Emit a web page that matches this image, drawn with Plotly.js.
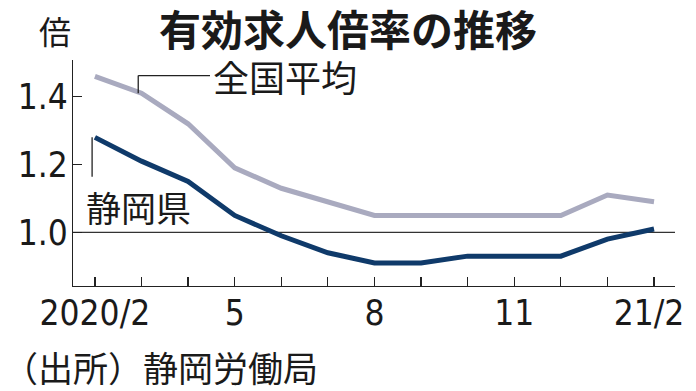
<!DOCTYPE html>
<html>
<head>
<meta charset="utf-8">
<script src="https://cdn.plot.ly/plotly-3.0.1.min.js"></script>
<style>
html,body{margin:0;padding:0;background:#fff;}
#chart{width:696px;height:391px;}
</style>
</head>
<body>
<div id="chart"></div>
<script>
// Months 2020/2 .. 2021/2
const months = ["2020/2","2020/3","2020/4","2020/5","2020/6","2020/7","2020/8","2020/9","2020/10","2020/11","2020/12","2021/1","2021/2"];
const tickLabels = ["2020/2","","","5","","","8","","","11","","","21/2\u00a0"];
const national = [1.46, 1.41, 1.32, 1.19, 1.13, 1.09, 1.05, 1.05, 1.05, 1.05, 1.05, 1.11, 1.09];
const shizuoka = [1.28, 1.21, 1.15, 1.05, 0.99, 0.94, 0.91, 0.91, 0.93, 0.93, 0.93, 0.98, 1.01];
const yTicks = [1.0, 1.2, 1.4];
const yTickText = ["1.0", "1.2", "1.4"];

const idx = months.map((m, i) => i);
const numFont = "'Liberation Sans Narrow','DejaVu Sans Condensed','Liberation Sans',sans-serif";
const cjkFont = "'Noto Sans CJK JP','Noto Sans CJK SC',sans-serif";

const traces = [
  {x: idx, y: national, type: 'scatter', mode: 'lines', name: '全国平均',
   line: {color: '#a9aabf', width: 5, shape: 'linear'}, hoverinfo: 'skip'},
  {x: idx, y: shizuoka, type: 'scatter', mode: 'lines', name: '静岡県',
   line: {color: '#0f3a6a', width: 5, shape: 'linear'}, hoverinfo: 'skip'}
];

const layout = {
  width: 696, height: 391,
  paper_bgcolor: '#fff', plot_bgcolor: '#fff',
  margin: {l: 73, r: 21, t: 60, b: 105, pad: 0},
  showlegend: false,
  title: {text: '<b>有効求人倍率の推移</b>', font: {family: cjkFont, size: 42, color: '#1a1a1a'},
          xref: 'container', x: 0.5, xanchor: 'center', yref: 'container', y: 1 - 31/391, yanchor: 'middle'},
  xaxis: {
    range: [-0.47, 12.45], tickmode: 'array', tickvals: idx, ticktext: tickLabels,
    ticks: 'inside', ticklen: 9, tickwidth: 1.2, tickcolor: '#222',
    showline: true, linecolor: '#222', linewidth: 1.3, showgrid: false, zeroline: false,
    tickfont: {family: numFont, size: 35, color: '#1a1a1a'}, ticklabelstandoff: -4,
    ticklabeloverflow: 'allow', fixedrange: true
  },
  yaxis: {
    range: [0.842, 1.508], tickmode: 'array', tickvals: yTicks, ticktext: yTickText,
    ticks: 'inside', ticklen: 9, tickwidth: 1.2, tickcolor: '#222',
    showline: true, linecolor: '#222', linewidth: 1.3, showgrid: false, zeroline: false,
    tickfont: {family: numFont, size: 35, color: '#1a1a1a'}, ticklabelstandoff: -3,
    ticklabeloverflow: 'allow', fixedrange: true
  },
  shapes: [
    {type: 'line', xref: 'paper', yref: 'y', x0: 0, x1: 1, y0: 1.0, y1: 1.0,
     line: {color: '#333', width: 1.2}, layer: 'below'},
    // leader for national
    {type: 'line', xref: 'x', yref: 'y', x0: 0.93, x1: 0.93, y0: national[1], y1: 1.462, line: {color: '#222', width: 1.3}},
    {type: 'line', xref: 'x', yref: 'y', x0: 0.93, x1: 2.47, y0: 1.462, y1: 1.462, line: {color: '#222', width: 1.3}},
    // leader for Shizuoka
    {type: 'line', xref: 'x', yref: 'y', x0: -0.06, x1: -0.06, y0: shizuoka[0], y1: 1.164, line: {color: '#222', width: 1.3}}
  ],
  annotations: [
    {text: '全国平均', xref: 'x', yref: 'y', x: 2.5, y: 1.462, xanchor: 'left', yanchor: 'middle', showarrow: false,
     font: {family: cjkFont, size: 36, color: '#1a1a1a'}},
    {text: '静岡県', xref: 'x', yref: 'y', x: -0.24, y: 1.076, xanchor: 'left', yanchor: 'middle', showarrow: false,
     font: {family: cjkFont, size: 35, color: '#1a1a1a'}},
    {text: '倍', xref: 'paper', yref: 'paper', x: -0.03, y: (286-30)/226, xanchor: 'center', yanchor: 'middle', showarrow: false,
     font: {family: cjkFont, size: 32, color: '#1a1a1a'}},
    {text: '（出所）静岡労働局', xref: 'paper', yref: 'paper', x: -72/602, y: (286-366)/226, xanchor: 'left', yanchor: 'middle', showarrow: false,
     font: {family: cjkFont, size: 35, color: '#1a1a1a'}}
  ]
};

Plotly.newPlot('chart', traces, layout, {staticPlot: true, displayModeBar: false});
</script>
</body>
</html>
